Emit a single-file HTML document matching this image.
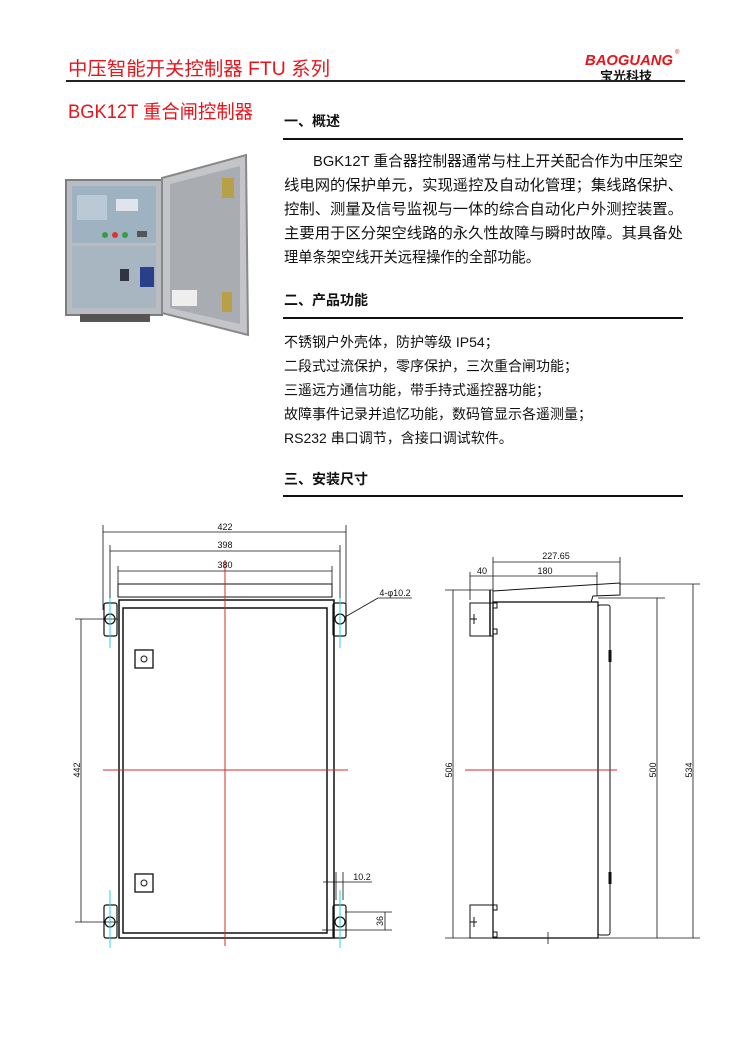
<!DOCTYPE html>
<html><head><meta charset="utf-8"><style>
html,body{margin:0;padding:0;background:#fff;}
svg{display:block;}
text{font-family:"Liberation Sans","Noto Sans CJK SC",sans-serif;}
</style></head><body>
<svg width="750" height="1061" viewBox="0 0 750 1061" xmlns="http://www.w3.org/2000/svg">
<!-- header -->
<text x="68" y="75" font-size="19" fill="#e8141b" textLength="262" lengthAdjust="spacingAndGlyphs">中压智能开关控制器 FTU 系列</text>
<text x="585" y="65" font-size="15" font-weight="bold" font-style="italic" fill="#e8141b" textLength="88" lengthAdjust="spacingAndGlyphs">BAOGUANG</text>
<text x="675" y="54" font-size="6" fill="#e8141b">®</text>
<text x="600" y="80" font-size="12" font-weight="bold" fill="#111" textLength="52" lengthAdjust="spacingAndGlyphs">宝光科技</text>
<line x1="66" y1="81" x2="685" y2="81" stroke="#222" stroke-width="2"/>
<text x="68" y="118" font-size="19" fill="#e8141b" textLength="185" lengthAdjust="spacingAndGlyphs">BGK12T 重合闸控制器</text>

<!-- sections -->
<text x="284" y="126" font-size="14" font-weight="bold" fill="#111">一、概述</text>
<line x1="283" y1="139" x2="683" y2="139" stroke="#111" stroke-width="2"/>
<g font-size="15" fill="#111">
<text x="313" y="166" textLength="370" lengthAdjust="spacingAndGlyphs">BGK12T 重合器控制器通常与柱上开关配合作为中压架空</text>
<text x="284" y="190" textLength="399" lengthAdjust="spacingAndGlyphs">线电网的保护单元，实现遥控及自动化管理；集线路保护、</text>
<text x="284" y="214" textLength="399" lengthAdjust="spacingAndGlyphs">控制、测量及信号监视与一体的综合自动化户外测控装置。</text>
<text x="284" y="238" textLength="399" lengthAdjust="spacingAndGlyphs">主要用于区分架空线路的永久性故障与瞬时故障。其具备处</text>
<text x="284" y="262" textLength="256" lengthAdjust="spacingAndGlyphs">理单条架空线开关远程操作的全部功能。</text>
</g>
<text x="284" y="305" font-size="14" font-weight="bold" fill="#111">二、产品功能</text>
<line x1="283" y1="318" x2="683" y2="318" stroke="#111" stroke-width="2"/>
<g font-size="14" fill="#111">
<text x="284" y="347">不锈钢户外壳体，防护等级 IP54；</text>
<text x="284" y="371">二段式过流保护，零序保护，三次重合闸功能；</text>
<text x="284" y="395">三遥远方通信功能，带手持式遥控器功能；</text>
<text x="284" y="419">故障事件记录并追忆功能，数码管显示各遥测量；</text>
<text x="284" y="443">RS232 串口调节，含接口调试软件。</text>
</g>
<text x="284" y="484" font-size="14" font-weight="bold" fill="#111">三、安装尺寸</text>
<line x1="283" y1="496" x2="683" y2="496" stroke="#111" stroke-width="2"/>

<!-- photo -->
<g>
<rect x="66" y="180" width="96" height="135" fill="#b9bcc0" stroke="#7a7d82" stroke-width="2"/>
<rect x="72" y="186" width="84" height="57" fill="#9fb2c2"/>
<rect x="72" y="246" width="84" height="62" fill="#a8b6c2"/>
<rect x="77" y="195" width="30" height="25" fill="#b9c9d6"/>
<rect x="116" y="199" width="22" height="12" fill="#dfe5ea"/>
<circle cx="105" cy="235" r="3" fill="#3a9a4a"/><circle cx="115" cy="235" r="3" fill="#d33"/><circle cx="125" cy="235" r="3" fill="#3a9a4a"/>
<rect x="137" y="231" width="10" height="6" fill="#555"/>
<rect x="140" y="267" width="14" height="20" fill="#2a3f8a"/>
<rect x="120" y="269" width="9" height="12" fill="#334"/>
<rect x="80" y="314" width="70" height="8" fill="#555"/>
<polygon points="162,178 246,155 248,335 162,313" fill="#c3c5c8" stroke="#888" stroke-width="2"/>
<polygon points="170,184 240,166 240,324 170,308" fill="#a9adb2"/>
<rect x="172" y="290" width="25" height="16" fill="#eee"/>
<rect x="222" y="178" width="12" height="20" fill="#b8a048"/>
<rect x="222" y="292" width="10" height="20" fill="#b8a048"/>
</g>

<!-- front drawing -->
<g stroke="#111" fill="none" stroke-width="1">
<line x1="103" y1="525" x2="103" y2="610" stroke-width="0.8"/>
<line x1="346" y1="525" x2="346" y2="610" stroke-width="0.8"/>
<line x1="110" y1="545" x2="110" y2="600" stroke-width="0.8"/>
<line x1="340" y1="545" x2="340" y2="600" stroke-width="0.8"/>
<line x1="118" y1="566" x2="118" y2="584" stroke-width="0.8"/>
<line x1="332" y1="566" x2="332" y2="584" stroke-width="0.8"/>
<line x1="103" y1="532" x2="346" y2="532" stroke-width="0.8"/>
<line x1="110" y1="551" x2="340" y2="551" stroke-width="0.8"/>
<line x1="118" y1="571" x2="332" y2="571" stroke-width="0.8"/>
<rect x="118" y="584" width="214" height="13"/>
<rect x="119" y="600" width="215" height="338" stroke-width="1.5"/>
<rect x="123" y="608" width="204" height="325" stroke-width="1.5"/>
<rect x="135" y="650" width="18" height="18" stroke-width="1.3"/>
<circle cx="144" cy="659" r="3"/>
<rect x="135" y="874" width="18" height="18" stroke-width="1.3"/>
<circle cx="144" cy="883" r="3"/>
<g stroke-width="1.2">
<rect x="104" y="603" width="13" height="33" rx="2"/><circle cx="110" cy="619" r="5"/>
<rect x="104" y="905" width="13" height="33" rx="2"/><circle cx="110" cy="922" r="5"/>
<rect x="333" y="603" width="13" height="33" rx="2"/><circle cx="340" cy="619" r="5"/>
<rect x="333" y="905" width="13" height="33" rx="2"/><circle cx="340" cy="922" r="5"/>
</g>
<line x1="75" y1="619" x2="118" y2="619" stroke-width="0.8"/>
<line x1="75" y1="922" x2="118" y2="922" stroke-width="0.8"/>
<line x1="81" y1="619" x2="81" y2="922" stroke-width="0.8"/>
<line x1="345" y1="617" x2="378" y2="598" stroke-width="0.8"/>
<line x1="378" y1="598" x2="412" y2="598" stroke-width="0.8"/>
<line x1="336" y1="872" x2="336" y2="900" stroke-width="0.8"/>
<line x1="343" y1="872" x2="343" y2="900" stroke-width="0.8"/>
<line x1="323" y1="882" x2="372" y2="882" stroke-width="0.8"/>
<line x1="345" y1="912" x2="392" y2="912" stroke-width="0.8"/>
<line x1="322" y1="930" x2="392" y2="930" stroke-width="0.8"/>
<line x1="385" y1="912" x2="385" y2="930" stroke-width="0.8"/>
</g>
<g stroke="#2ad4e0" stroke-width="1">
<line x1="110" y1="598" x2="110" y2="648"/><line x1="340" y1="598" x2="340" y2="648"/>
<line x1="110" y1="890" x2="110" y2="948"/><line x1="340" y1="890" x2="340" y2="948"/>
</g>
<g stroke="#d42a2a" stroke-width="1">
<line x1="225" y1="560" x2="225" y2="946"/>
<line x1="103" y1="770" x2="348" y2="770"/>
</g>
<g font-size="9" fill="#111" text-anchor="middle">
<text x="225" y="530">422</text>
<text x="225" y="548">398</text>
<text x="225" y="568">380</text>
<text x="77" y="773" transform="rotate(-90 77 770)">442</text>
<text x="395" y="596">4-φ10.2</text>
<text x="362" y="880">10.2</text>
<text x="380" y="924" transform="rotate(-90 380 921)">36</text>
</g>

<!-- side drawing -->
<g stroke="#111" fill="none" stroke-width="1">
<line x1="493" y1="557" x2="493" y2="600" stroke-width="0.8"/>
<line x1="620" y1="557" x2="620" y2="584" stroke-width="0.8"/>
<line x1="470" y1="572" x2="470" y2="600" stroke-width="0.8"/>
<line x1="597" y1="572" x2="597" y2="596" stroke-width="0.8"/>
<line x1="493" y1="562" x2="620" y2="562" stroke-width="0.8"/>
<line x1="470" y1="576" x2="597" y2="576" stroke-width="0.8"/>
<line x1="445" y1="590" x2="493" y2="590" stroke-width="0.8"/>
<polygon points="493,591 620,583 620,595 593,596 591,602 493,602" stroke-width="1"/>
<line x1="490" y1="590" x2="490" y2="636" stroke-width="1.5"/>
<rect x="493" y="602" width="105" height="336" stroke-width="1.3"/>
<rect x="598" y="605" width="12" height="330" rx="2"/>
<line x1="610" y1="650" x2="610" y2="662" stroke-width="3"/>
<line x1="610" y1="872" x2="610" y2="884" stroke-width="3"/>
<rect x="470" y="603" width="23" height="33"/>
<rect x="493" y="603" width="4" height="5"/><rect x="493" y="629" width="4" height="5"/>
<rect x="470" y="905" width="23" height="33"/>
<rect x="493" y="905" width="4" height="5"/><rect x="493" y="932" width="4" height="5"/>
<line x1="470" y1="619" x2="477" y2="619"/><line x1="474" y1="614" x2="474" y2="624"/>
<line x1="470" y1="922" x2="477" y2="922"/><line x1="474" y1="917" x2="474" y2="927"/>
<line x1="453" y1="590" x2="453" y2="938" stroke-width="0.8"/>
<line x1="598" y1="598" x2="665" y2="598" stroke-width="0.8"/>
<line x1="657" y1="598" x2="657" y2="938" stroke-width="0.8"/>
<line x1="620" y1="584" x2="700" y2="584" stroke-width="0.8"/>
<line x1="693" y1="584" x2="693" y2="938" stroke-width="0.8"/>
<line x1="445" y1="938" x2="700" y2="938" stroke-width="0.8"/>
<line x1="548" y1="932" x2="548" y2="944" stroke-width="0.8"/>
</g>
<line x1="465" y1="770" x2="617" y2="770" stroke="#d42a2a" stroke-width="1"/>
<g font-size="9" fill="#111" text-anchor="middle">
<text x="556" y="559">227.65</text>
<text x="482" y="574">40</text>
<text x="545" y="574">180</text>
<text x="449" y="773" transform="rotate(-90 449 770)">506</text>
<text x="653" y="773" transform="rotate(-90 653 770)">500</text>
<text x="689" y="773" transform="rotate(-90 689 770)">534</text>
</g>
</svg>
</body></html>
